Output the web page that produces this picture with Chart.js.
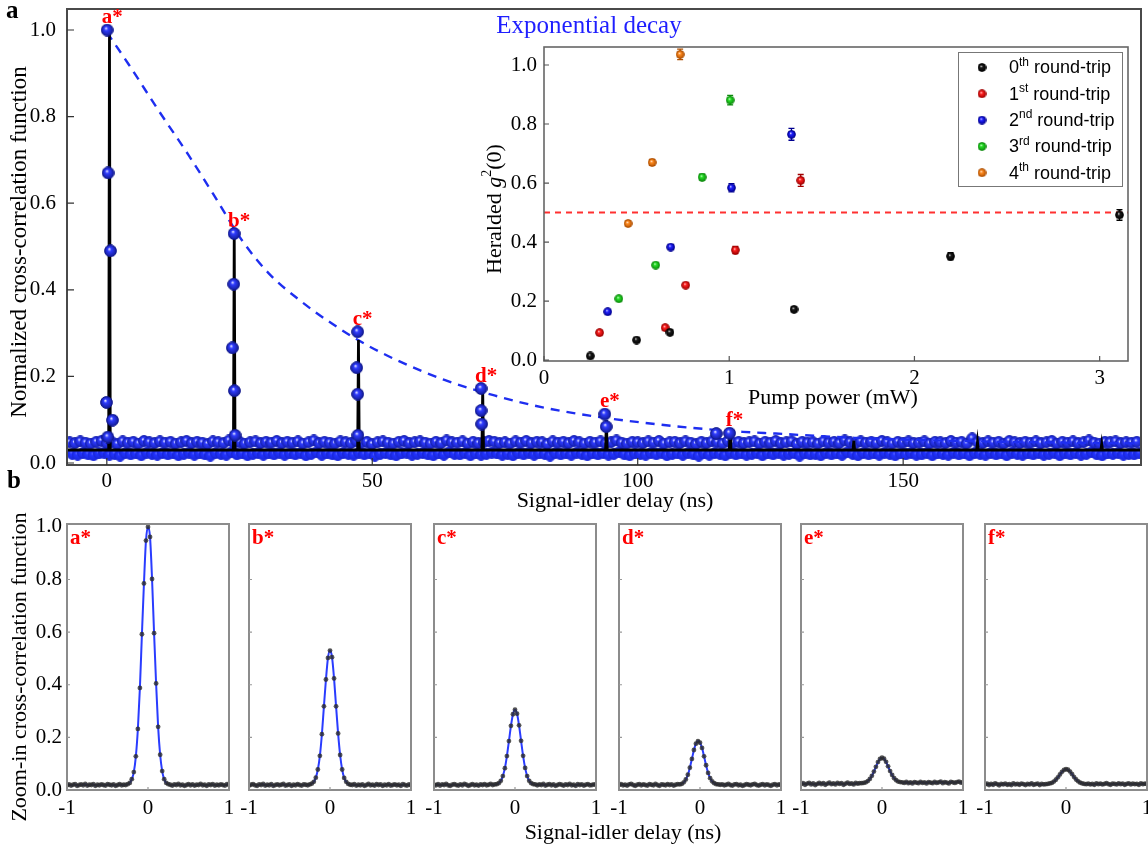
<!DOCTYPE html>
<html>
<head>
<meta charset="utf-8">
<title>Heralded cross-correlation</title>
<script src="https://cdn.jsdelivr.net/npm/chart.js@4.4.1/dist/chart.umd.min.js"></script>
<style>
  html, body { margin: 0; padding: 0; background: #fff; overflow: hidden; }
  #page { position: relative; width: 1148px; height: 851px; }
  #page canvas { position: absolute; }
</style>
</head>
<body>
<div id="page">
  <canvas id="mainChart" width="1148" height="851" style="left:0;top:0"></canvas>
  <canvas id="insetChart" width="660" height="380" style="left:480px;top:35px"></canvas>
</div>
<script>
// ---------------------------------------------------------
// Data
// ---------------------------------------------------------

// (a) long-range cross-correlation background, one sample per ns from -7 ns
const baselineUpper = [
  0.048,0.046,0.050,0.047,0.045,0.049,0.051,0.046,0.048,0.044,0.050,0.047,0.049,0.045,0.051,0.048,0.046,0.050,0.047,0.049,
  0.045,0.048,0.051,0.046,0.049,0.047,0.044,0.050,0.048,0.046,0.052,0.047,0.049,0.045,0.048,0.050,0.046,0.049,0.047,0.051,
  0.046,0.049,0.047,0.050,0.045,0.048,0.052,0.046,0.049,0.047,0.045,0.050,0.048,0.046,0.051,0.047,0.049,0.044,0.048,0.050,
  0.047,0.045,0.049,0.051,0.046,0.048,0.050,0.047,0.045,0.049,0.046,0.052,0.048,0.047,0.050,0.045,0.049,0.046,0.048,0.051,
  0.049,0.046,0.048,0.045,0.050,0.047,0.051,0.046,0.049,0.048,0.044,0.050,0.047,0.049,0.046,0.051,0.048,0.045,0.049,0.047,
  0.050,0.046,0.048,0.052,0.047,0.045,0.049,0.048,0.046,0.050,0.047,0.051,0.045,0.048,0.049,0.046,0.050,0.047,0.044,0.049,
  0.046,0.050,0.048,0.045,0.051,0.047,0.049,0.046,0.048,0.050,0.045,0.049,0.047,0.051,0.046,0.048,0.050,0.044,0.049,0.047,
  0.048,0.045,0.050,0.047,0.049,0.046,0.052,0.048,0.045,0.050,0.047,0.049,0.046,0.051,0.048,0.045,0.049,0.047,0.050,0.046,
  0.047,0.050,0.045,0.049,0.048,0.046,0.051,0.047,0.049,0.045,0.057,0.048,0.046,0.050,0.047,0.049,0.045,0.051,0.048,0.046,
  0.049,0.047,0.050,0.046,0.048,0.051,0.045,0.049,0.047,0.050,0.046,0.048,0.052,0.047,0.045,0.049,0.048,0.050,0.046,0.048,
  0.047,0.049
];
// same background, the bins half a ns later
const baselineLower = [
  0.021,0.019,0.023,0.020,0.018,0.022,0.024,0.019,0.021,0.017,0.023,0.020,0.022,0.018,0.024,0.021,0.019,0.023,0.020,0.022,
  0.018,0.021,0.024,0.019,0.022,0.020,0.017,0.023,0.021,0.019,0.025,0.020,0.022,0.018,0.021,0.023,0.019,0.022,0.020,0.024,
  0.019,0.022,0.020,0.023,0.018,0.021,0.025,0.019,0.022,0.020,0.018,0.023,0.021,0.019,0.024,0.020,0.022,0.017,0.021,0.023,
  0.020,0.018,0.022,0.024,0.019,0.021,0.023,0.020,0.018,0.022,0.019,0.025,0.021,0.020,0.023,0.018,0.022,0.019,0.021,0.024,
  0.022,0.019,0.021,0.018,0.023,0.020,0.024,0.019,0.022,0.021,0.017,0.023,0.020,0.022,0.019,0.024,0.021,0.018,0.022,0.020,
  0.023,0.019,0.021,0.025,0.020,0.018,0.022,0.021,0.019,0.023,0.020,0.024,0.018,0.021,0.022,0.019,0.023,0.020,0.017,0.022,
  0.019,0.023,0.021,0.018,0.024,0.020,0.022,0.019,0.021,0.023,0.018,0.022,0.020,0.024,0.019,0.021,0.023,0.017,0.022,0.020,
  0.021,0.018,0.023,0.020,0.022,0.019,0.025,0.021,0.018,0.023,0.020,0.022,0.019,0.024,0.021,0.018,0.022,0.020,0.023,0.019,
  0.020,0.023,0.018,0.022,0.021,0.019,0.024,0.020,0.022,0.018,0.023,0.021,0.019,0.023,0.020,0.022,0.018,0.024,0.021,0.019,
  0.022,0.020,0.023,0.019,0.021,0.024,0.018,0.022,0.020,0.023,0.019,0.021,0.025,0.020,0.018,0.022,0.021,0.023,0.019,0.021,
  0.020,0.022
];
const baselineStart = -7;

// samples picked up on each round-trip peak
const peakNames = ['a', 'b', 'c', 'd', 'e', 'f'];
const peakDelay = [0.06, 23.97, 47.25, 70.5, 93.8, 117.3];
const peakValue = [1.0, 0.530, 0.303, 0.172, 0.113, 0.069];
const sideDelay = [0.24, 0.69, -0.06, 1.07, 0.19, 23.9, 23.65, 24.03, 24.16, 47.06, 47.25, 47.3, 70.5, 70.6, 94.07, 114.8];
const sideValue = [0.670, 0.490, 0.140, 0.099, 0.060, 0.413, 0.266, 0.167, 0.064, 0.220, 0.159, 0.064, 0.121, 0.090, 0.084, 0.068];

// raw histogram trace: flat background plus one spike per round trip
const traceLevel = 0.030;
const spikeDelay = [0.5, 24.0, 47.4, 70.8, 94.1, 117.4, 140.7, 164.0, 187.4];
const spikeTop = [1.0, 0.53, 0.284, 0.17, 0.099, 0.072, 0.052, 0.048, 0.044];

// exponential decay envelope
const decayDelay = [0, 4.1, 9.75, 15.4, 20, 25.6, 30.5, 36.1, 42.4, 48.6, 54.9, 63.6, 73, 82.3, 91.7, 101.1, 110.4, 119.8, 126, 141, 160, 194.8];
const decayValue = [0.995, 0.921, 0.814, 0.711, 0.622, 0.512, 0.438, 0.378, 0.322, 0.275, 0.236, 0.192, 0.156, 0.128, 0.108, 0.093, 0.081, 0.072, 0.068, 0.058, 0.051, 0.045];

const mainXTicks = [0, 50, 100, 150];
const mainYTicks = [0, 0.2, 0.4, 0.6, 0.8, 1.0];

// inset: heralded g2(0) against pump power, per round trip
const tripNames = ['0', '1', '2', '3', '4'];
const tripSuffix = ['th', 'st', 'nd', 'rd', 'th'];
const pumpPower = [
  [0.25, 0.50, 0.68, 1.35, 2.195, 3.107],
  [0.30, 0.654, 0.765, 1.033, 1.386],
  [0.344, 0.684, 1.012, 1.336],
  [0.404, 0.603, 0.854, 1.005],
  [0.454, 0.584, 0.735]
];
const heraldedG2 = [
  [0.014, 0.068, 0.094, 0.172, 0.352, 0.492],
  [0.093, 0.110, 0.254, 0.373, 0.609],
  [0.164, 0.383, 0.584, 0.765],
  [0.208, 0.322, 0.620, 0.881],
  [0.463, 0.670, 1.036]
];
const heraldedErr = [
  [0.004, 0.004, 0.004, 0.006, 0.012, 0.018],
  [0.004, 0.005, 0.006, 0.012, 0.02],
  [0.004, 0.007, 0.014, 0.02],
  [0.004, 0.006, 0.01, 0.016],
  [0.006, 0.01, 0.018]
];
const classicalLimit = 0.5;
const insetXTicks = [0, 1, 2, 3];
const insetYTicks = [0, 0.2, 0.4, 0.6, 0.8, 1.0];

// (b) zoom on each peak, 0.025 ns bins from -1 ns to 1 ns
const zoomStart = -1;
const zoomStep = 0.025;
const zoomA = [
  0.018,0.021,0.017,0.020,0.022,0.016,0.019,0.021,0.018,0.023,0.017,0.020,0.019,0.022,0.016,0.020,0.018,0.021,0.019,0.017,0.022,0.020,0.018,0.021,0.016,0.019,0.022,0.018,0.020,0.019,
  0.022,0.027,0.041,0.068,0.128,0.232,0.388,0.592,0.785,0.948,1.000,0.962,0.802,0.596,0.405,0.240,0.134,0.072,0.041,0.027,0.022,
  0.020,0.017,0.021,0.019,0.023,0.018,0.020,0.016,0.019,0.022,0.018,0.021,0.017,0.020,0.019,0.023,0.018,0.020,0.016,0.021,0.019,0.022,0.017,0.020,0.018,0.021,0.019,0.017,0.022,0.020
];
const zoomB = [
  0.017,0.020,0.022,0.018,0.016,0.021,0.019,0.023,0.017,0.020,0.018,0.022,0.016,0.019,0.021,0.018,0.020,0.023,0.017,0.019,0.021,0.016,0.020,0.018,0.022,0.019,0.017,0.021,0.020,0.018,
  0.021,0.024,0.031,0.047,0.078,0.130,0.212,0.318,0.420,0.502,0.530,0.505,0.424,0.318,0.215,0.133,0.078,0.046,0.031,0.023,0.020,
  0.019,0.022,0.017,0.020,0.018,0.021,0.016,0.019,0.023,0.018,0.020,0.017,0.022,0.019,0.021,0.016,0.020,0.018,0.022,0.017,0.019,0.021,0.018,0.020,0.016,0.022,0.019,0.017,0.021,0.018
];
const zoomC = [
  0.020,0.018,0.022,0.017,0.021,0.019,0.023,0.018,0.016,0.020,0.022,0.019,0.017,0.021,0.018,0.023,0.020,0.016,0.019,0.022,0.018,0.020,0.017,0.021,0.019,0.022,0.018,0.020,0.023,0.019,
  0.021,0.022,0.026,0.035,0.053,0.083,0.129,0.186,0.244,0.288,0.305,0.290,0.246,0.187,0.130,0.084,0.053,0.035,0.026,0.022,0.021,
  0.018,0.021,0.019,0.023,0.017,0.020,0.022,0.018,0.021,0.016,0.019,0.022,0.020,0.017,0.021,0.019,0.023,0.018,0.020,0.016,0.022,0.019,0.021,0.017,0.020,0.022,0.018,0.019,0.021,0.020
];
const zoomD = [
  0.019,0.022,0.018,0.020,0.017,0.021,0.023,0.019,0.016,0.020,0.022,0.018,0.021,0.019,0.017,0.022,0.020,0.018,0.023,0.019,0.016,0.021,0.020,0.018,0.022,0.019,0.021,0.017,0.020,0.022,
  0.021,0.023,0.029,0.040,0.058,0.085,0.118,0.152,0.176,0.186,0.180,0.160,0.128,0.094,0.065,0.045,0.033,0.026,0.022,0.021,0.020,
  0.021,0.018,0.020,0.023,0.019,0.017,0.021,0.022,0.018,0.020,0.016,0.019,0.022,0.020,0.018,0.021,0.023,0.019,0.017,0.020,0.022,0.018,0.021,0.019,0.016,0.020,0.022,0.018,0.021,0.019
];
const zoomE = [
  0.022,0.026,0.020,0.024,0.027,0.021,0.025,0.019,0.023,0.027,0.022,0.026,0.020,0.024,0.028,0.022,0.025,0.021,0.027,0.023,0.026,0.020,0.024,0.028,0.023,0.025,0.021,0.027,0.024,0.026,
  0.026,0.027,0.029,0.034,0.042,0.054,0.070,0.088,0.106,0.118,0.123,0.119,0.107,0.090,0.072,0.057,0.045,0.037,0.032,0.030,0.029,
  0.027,0.031,0.026,0.029,0.025,0.030,0.028,0.026,0.031,0.027,0.029,0.025,0.030,0.028,0.026,0.031,0.027,0.029,0.032,0.026,0.030,0.028,0.025,0.031,0.029,0.027,0.030,0.032,0.028,0.030
];
const zoomF = [
  0.021,0.024,0.019,0.023,0.020,0.025,0.022,0.018,0.023,0.021,0.024,0.020,0.022,0.019,0.025,0.021,0.023,0.020,0.024,0.022,0.019,0.023,0.021,0.025,0.020,0.022,0.024,0.019,0.023,0.021,
  0.022,0.023,0.025,0.027,0.032,0.039,0.048,0.059,0.069,0.076,0.079,0.077,0.070,0.060,0.049,0.040,0.033,0.028,0.025,0.023,0.022,
  0.024,0.021,0.023,0.020,0.025,0.022,0.024,0.021,0.023,0.026,0.022,0.020,0.024,0.023,0.021,0.025,0.022,0.024,0.020,0.023,0.025,0.021,0.024,0.022,0.023,0.020,0.025,0.022,0.024,0.023
];
const zoomSeries = [zoomA, zoomB, zoomC, zoomD, zoomE, zoomF];
const zoomXTicks = [-1, 0, 1];
const zoomYTicks = [0, 0.2, 0.4, 0.6, 0.8, 1.0];

// ---------------------------------------------------------
// Shared look
// ---------------------------------------------------------
const SERIF = '"Liberation Serif", "Times New Roman", serif';
const SANS = '"Liberation Sans", Arial, sans-serif';
Chart.defaults.font.family = SERIF;
Chart.defaults.color = '#000';

// shaded ball used as marker
function ball(base, edge, size, shine) {
  const c = document.createElement('canvas');
  c.width = c.height = size;
  const g = c.getContext('2d');
  const r = size / 2;
  const grad = g.createRadialGradient(r * 0.8, r * 0.7, 0, r, r, r);
  grad.addColorStop(0, shine);
  grad.addColorStop(0.3, base);
  grad.addColorStop(1, edge);
  g.fillStyle = grad;
  g.beginPath();
  g.arc(r, r, r - 0.6, 0, Math.PI * 2);
  g.fill();
  g.strokeStyle = edge;
  g.lineWidth = 1;
  g.stroke();
  return c;
}

const peakBall = ball('#2f3cff', '#10188c', 13, '#ffffff');
const noiseBall = ball('#2f3cff', '#1520b0', 12, '#ffffff');
const flatBall = ball('#2233ff', '#1a28d8', 12, '#5a66ff');
const tripColors = ['#1a1a1a', '#ff1f1f', '#1f1fff', '#25e025', '#ff8a1f'];
const tripEdges = ['#000000', '#a00000', '#000090', '#0c8a0c', '#b05000'];
const tripBalls = tripColors.map((c, i) => ball(c, tripEdges[i], 9, '#ffffff'));

const baseOptions = {
  responsive: false,
  animation: false,
  devicePixelRatio: 1,
  events: [],
  plugins: { legend: { display: false }, tooltip: { enabled: false } }
};

function fixedAxis(size, horizontal, tickValues) {
  return {
    afterBuildTicks: s => { s.ticks = tickValues.map(v => ({ value: v })); },
    afterFit: s => {
      if (horizontal) s.height = size; else s.width = size;
      s.paddingLeft = s.paddingRight = s.paddingTop = s.paddingBottom = 0;
    }
  };
}

function drawFrame(ctx, a, color, width) {
  ctx.strokeStyle = color;
  ctx.lineWidth = width;
  ctx.strokeRect(a.left, a.top, a.right - a.left, a.bottom - a.top);
}

function innerTicks(ctx, chart, xs, ys, len, color) {
  const a = chart.chartArea;
  ctx.strokeStyle = color;
  ctx.lineWidth = 1.2;
  ctx.beginPath();
  xs.forEach(v => {
    const px = chart.scales.x.getPixelForValue(v);
    ctx.moveTo(px, a.bottom);
    ctx.lineTo(px, a.bottom - len);
  });
  ys.forEach(v => {
    const py = chart.scales.y.getPixelForValue(v);
    ctx.moveTo(a.left, py);
    ctx.lineTo(a.left + len, py);
  });
  ctx.stroke();
}

// text written in runs, e.g. superscripts and italics
function drawRuns(ctx, runs, x, y, align) {
  let total = 0;
  runs.forEach(r => { ctx.font = r.font; total += ctx.measureText(r.text).width; });
  let cx = align === 'center' ? x - total / 2 : x;
  ctx.textAlign = 'left';
  runs.forEach(r => {
    ctx.font = r.font;
    ctx.fillText(r.text, cx, y + (r.dy || 0));
    cx += ctx.measureText(r.text).width;
  });
}

// ---------------------------------------------------------
// (a) main cross-correlation
// ---------------------------------------------------------
const upperDots = baselineUpper.map((v, i) => ({ x: baselineStart + i, y: v }));
const lowerDots = baselineLower.map((v, i) => ({ x: baselineStart + 0.5 + i, y: v }));
const peakDots = peakDelay.map((d, i) => ({ x: d, y: peakValue[i] }))
  .concat(sideDelay.map((d, i) => ({ x: d, y: sideValue[i] })));

const traceEnds = [-7.5, 194.8];
const trace = [{ x: traceEnds[0], y: traceLevel }];
spikeDelay.forEach((d, i) => {
  trace.push({ x: d - 0.15, y: traceLevel }, { x: d, y: spikeTop[i] }, { x: d + 0.15, y: traceLevel });
});
trace.push({ x: traceEnds[1], y: traceLevel });

const decayFit = decayDelay.map((d, i) => ({ x: d, y: decayValue[i] }));

const mainDecor = {
  id: 'mainDecor',
  afterDraw(chart) {
    const { ctx, chartArea: a, scales: { x, y } } = chart;
    ctx.save();
    drawFrame(ctx, a, '#4a4a4a', 2);
    innerTicks(ctx, chart, mainXTicks, mainYTicks, 7, '#333');

    // peak tags
    ctx.fillStyle = '#ff0000';
    ctx.font = 'bold 21px ' + SERIF;
    ctx.textAlign = 'center';
    ctx.textBaseline = 'alphabetic';
    peakNames.forEach((n, i) => {
      ctx.fillText(n + '*', x.getPixelForValue(peakDelay[i]) + 5, y.getPixelForValue(peakValue[i]) - 7);
    });

    ctx.fillStyle = '#1f1fff';
    ctx.font = '25px ' + SERIF;
    ctx.fillText('Exponential decay', 589, 33);

    // panel letters
    ctx.fillStyle = '#000';
    ctx.font = 'bold 25px ' + SERIF;
    ctx.textAlign = 'left';
    ctx.fillText('a', 6, 18);
    ctx.fillText('b', 7, 488);

    // axis titles
    ctx.font = '22px ' + SERIF;
    ctx.textAlign = 'center';
    ctx.textBaseline = 'middle';
    ctx.fillText('Signal-idler delay (ns)', 615, 501);
    ctx.fillText('Signal-idler delay (ns)', 623, 833);
    ctx.font = '23px ' + SERIF;
    ctx.save();
    ctx.translate(20, 242);
    ctx.rotate(-Math.PI / 2);
    ctx.fillText('Normalized cross-correlation function', 0, 0);
    ctx.restore();
    ctx.font = '22px ' + SERIF;
    ctx.save();
    ctx.translate(20, 667);
    ctx.rotate(-Math.PI / 2);
    ctx.fillText('Zoom-in cross-correlation function', 0, 0);
    ctx.restore();
    ctx.restore();
  }
};

new Chart(document.getElementById('mainChart'), {
  type: 'scatter',
  data: {
    datasets: [
      { data: peakDots, pointStyle: peakBall, pointRadius: 6, order: 0 },
      { data: trace, showLine: true, borderColor: '#000', borderWidth: 2.8, pointRadius: 0, order: 1 },
      { data: decayFit, showLine: true, borderColor: '#1e2ef0', borderWidth: 2.4, borderDash: [9, 7],
        pointRadius: 0, cubicInterpolationMode: 'monotone', order: 2 },
      { data: upperDots, pointStyle: noiseBall, pointRadius: 6, order: 3 },
      { data: lowerDots, pointStyle: flatBall, pointRadius: 6, order: 4 }
    ]
  },
  options: {
    ...baseOptions,
    layout: { padding: { left: 0, top: 9, right: 2, bottom: 336 } },
    scales: {
      x: {
        type: 'linear', min: -7.5, max: 194.8,
        grid: { display: false, drawTicks: false }, border: { display: false },
        ticks: { font: { size: 21 }, padding: 4, maxRotation: 0, autoSkip: false },
        ...fixedAxis(50, true, mainXTicks)
      },
      y: {
        type: 'linear', min: -0.0046, max: 1.0485,
        grid: { display: false, drawTicks: false }, border: { display: false },
        ticks: { font: { size: 21 }, padding: 11, autoSkip: false, callback: v => v.toFixed(1) },
        ...fixedAxis(67, false, mainYTicks)
      }
    }
  },
  plugins: [mainDecor]
});

// ---------------------------------------------------------
// inset: heralded g2(0)
// ---------------------------------------------------------
const insetDecor = {
  id: 'insetDecor',
  beforeDatasetsDraw(chart) {
    const { ctx, scales: { x, y } } = chart;
    ctx.save();
    ctx.lineWidth = 1.3;
    pumpPower.forEach((row, s) => {
      ctx.strokeStyle = tripEdges[s];
      row.forEach((p, i) => {
        const px = x.getPixelForValue(p);
        const lo = y.getPixelForValue(heraldedG2[s][i] - heraldedErr[s][i]);
        const hi = y.getPixelForValue(heraldedG2[s][i] + heraldedErr[s][i]);
        ctx.beginPath();
        ctx.moveTo(px, lo); ctx.lineTo(px, hi);
        ctx.moveTo(px - 3, lo); ctx.lineTo(px + 3, lo);
        ctx.moveTo(px - 3, hi); ctx.lineTo(px + 3, hi);
        ctx.stroke();
      });
    });
    ctx.restore();
  },
  afterDraw(chart) {
    const { ctx, chartArea: a } = chart;
    ctx.save();
    drawFrame(ctx, a, '#666', 1.6);
    innerTicks(ctx, chart, insetXTicks, insetYTicks, 5, '#555');

    // legend
    const lx = 478, ly = 17, lw = 164, lh = 134;
    ctx.fillStyle = '#fff';
    ctx.fillRect(lx, ly, lw, lh);
    ctx.strokeStyle = '#777';
    ctx.lineWidth = 1;
    ctx.strokeRect(lx + 0.5, ly + 0.5, lw, lh);
    ctx.fillStyle = '#000';
    ctx.textBaseline = 'middle';
    tripNames.forEach((n, i) => {
      const ry = 32.5 + i * 26.3;
      ctx.drawImage(tripBalls[i], 502 - 4.5, ry - 4.5);
      drawRuns(ctx, [
        { text: n, font: '18px ' + SANS },
        { text: tripSuffix[i], font: '12px ' + SANS, dy: -6 },
        { text: ' round-trip', font: '18px ' + SANS }
      ], 529, ry + 1, 'left');
    });

    // axis titles
    ctx.textBaseline = 'middle';
    ctx.font = '22px ' + SERIF;
    ctx.textAlign = 'center';
    ctx.fillText('Pump power (mW)', 353, 363);
    ctx.save();
    ctx.translate(15, 174);
    ctx.rotate(-Math.PI / 2);
    drawRuns(ctx, [
      { text: 'Heralded ', font: '22px ' + SERIF },
      { text: 'g', font: 'italic 22px ' + SERIF },
      { text: '2', font: '14px ' + SERIF, dy: -8 },
      { text: '(0)', font: '22px ' + SERIF }
    ], 0, 0, 'center');
    ctx.restore();
    ctx.restore();
  }
};

const insetSets = pumpPower.map((row, s) => ({
  data: row.map((p, i) => ({ x: p, y: heraldedG2[s][i] })),
  pointStyle: tripBalls[s],
  pointRadius: 4,
  order: 0
}));
insetSets.push({
  data: [{ x: 0, y: classicalLimit }, { x: 3.153, y: classicalLimit }],
  showLine: true, borderColor: '#ff3030', borderWidth: 2, borderDash: [6, 5], pointRadius: 0, order: 1
});

new Chart(document.getElementById('insetChart'), {
  type: 'scatter',
  data: { datasets: insetSets },
  options: {
    ...baseOptions,
    layout: { padding: { left: 0, top: 12, right: 12, bottom: 0 } },
    scales: {
      x: {
        type: 'linear', min: 0, max: 3.153,
        grid: { display: false, drawTicks: false }, border: { display: false },
        ticks: { font: { size: 21 }, padding: 5, maxRotation: 0, autoSkip: false },
        ...fixedAxis(54, true, insetXTicks)
      },
      y: {
        type: 'linear', min: -0.003, max: 1.061,
        grid: { display: false, drawTicks: false }, border: { display: false },
        ticks: { font: { size: 21 }, padding: 7, autoSkip: false, callback: v => v.toFixed(1) },
        ...fixedAxis(64, false, insetYTicks)
      }
    }
  },
  plugins: [insetDecor]
});

// ---------------------------------------------------------
// (b) zoom-in panels
// ---------------------------------------------------------
const page = document.getElementById('page');
const panelLeft = [67, 249, 434, 619, 801, 985];

zoomSeries.forEach((values, k) => {
  const pts = values.map((v, i) => ({ x: zoomStart + i * zoomStep, y: v }));
  const cv = document.createElement('canvas');
  cv.width = 235;
  cv.height = 336;
  cv.style.left = (panelLeft[k] - 67) + 'px';
  cv.style.top = '515px';
  page.appendChild(cv);

  const zoomDecor = {
    id: 'zoomDecor' + k,
    afterDraw(chart) {
      const { ctx, chartArea: a } = chart;
      ctx.save();
      drawFrame(ctx, a, '#8c8c8c', 2);
      innerTicks(ctx, chart, [0], zoomYTicks.slice(1, 5), 3, '#999');
      ctx.fillStyle = '#ff0000';
      ctx.font = 'bold 21px ' + SERIF;
      ctx.textAlign = 'left';
      ctx.textBaseline = 'alphabetic';
      ctx.fillText(peakNames[k] + '*', a.left + 3, a.top + 20);
      ctx.restore();
    }
  };

  new Chart(cv, {
    type: 'scatter',
    data: {
      datasets: [
        { data: pts, pointRadius: 2.4, pointBorderWidth: 0, backgroundColor: 'rgba(45,45,45,0.8)', order: 0 },
        { data: pts, showLine: true, borderColor: '#2a3cff', borderWidth: 2, pointRadius: 0,
          cubicInterpolationMode: 'monotone', order: 1 }
      ]
    },
    options: {
      ...baseOptions,
      layout: { padding: { left: 0, top: 9, right: 6, bottom: 0 } },
      scales: {
        x: {
          type: 'linear', min: -1, max: 1,
          grid: { display: false, drawTicks: false }, border: { display: false },
          ticks: { font: { size: 21 }, padding: 6, maxRotation: 0, autoSkip: false },
          ...fixedAxis(61, true, zoomXTicks)
        },
        y: {
          type: 'linear', min: 0, max: 1.011,
          grid: { display: false, drawTicks: false }, border: { display: false },
          ticks: { display: k === 0, font: { size: 21 }, padding: 5, autoSkip: false, callback: v => v.toFixed(1) },
          ...fixedAxis(67, false, zoomYTicks)
        }
      }
    },
    plugins: [zoomDecor]
  });
});
</script>
</body>
</html>
